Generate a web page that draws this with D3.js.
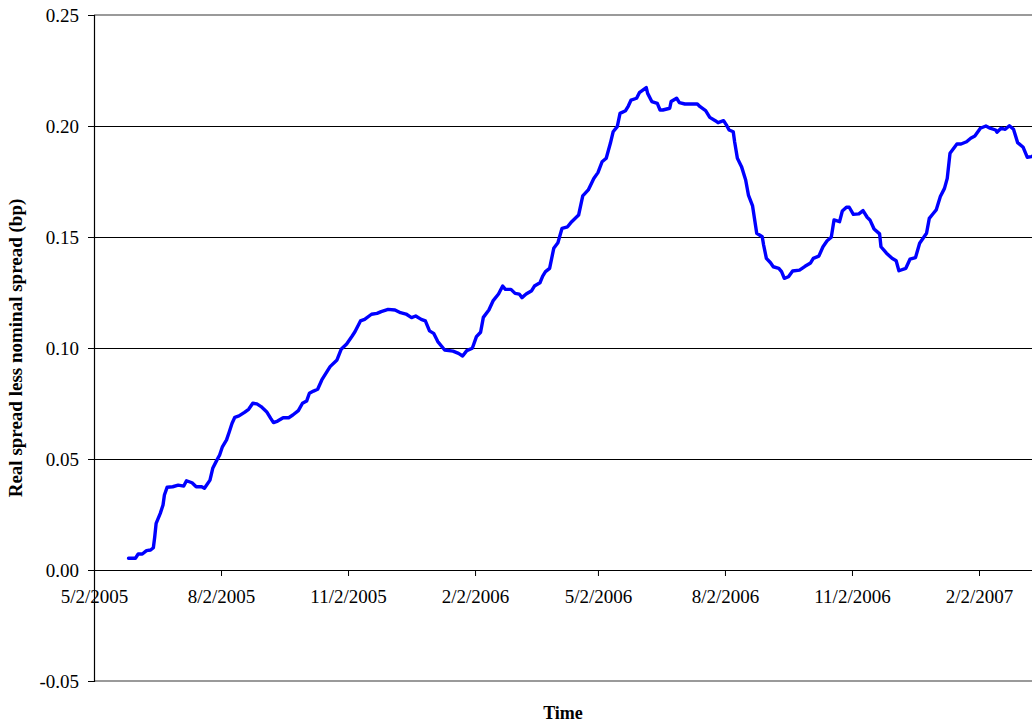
<!DOCTYPE html>
<html>
<head>
<meta charset="utf-8">
<script src="https://cdn.jsdelivr.net/npm/d3@7"></script>
<style>
  html, body { margin: 0; padding: 0; background: #fff; }
  svg { display: block; }
  text { font-family: "Liberation Serif", "Times New Roman", serif; fill: #000; }
</style>
</head>
<body>
<svg id="chart" width="1032" height="725"></svg>
<script>
// ---- data ----
const dates = [
  "2005-05-27","2005-06-01","2005-06-03","2005-06-06","2005-06-09","2005-06-12","2005-06-14","2005-06-15","2005-06-16","2005-06-19",
  "2005-06-21","2005-06-22","2005-06-24","2005-06-28","2005-07-02","2005-07-06","2005-07-08","2005-07-12","2005-07-15","2005-07-19",
  "2005-07-21","2005-07-25","2005-07-27","2005-07-30","2005-08-01","2005-08-03","2005-08-06","2005-08-08","2005-08-10","2005-08-12",
  "2005-08-15","2005-08-19","2005-08-22","2005-08-25","2005-08-28","2005-08-31","2005-09-04","2005-09-07","2005-09-09","2005-09-12",
  "2005-09-16","2005-09-20","2005-09-23","2005-09-27","2005-09-30","2005-10-03","2005-10-05","2005-10-08","2005-10-11","2005-10-14",
  "2005-10-20","2005-10-25","2005-10-28","2005-11-01","2005-11-05","2005-11-07","2005-11-11","2005-11-14","2005-11-19","2005-11-23",
  "2005-11-26","2005-12-01","2005-12-06","2005-12-10","2005-12-14","2005-12-18","2005-12-21","2005-12-25","2005-12-28","2005-12-31",
  "2006-01-03","2006-01-06","2006-01-11","2006-01-17","2006-01-21","2006-01-24","2006-01-27","2006-01-31","2006-02-03","2006-02-06",
  "2006-02-08","2006-02-12","2006-02-15","2006-02-19","2006-02-22","2006-02-24","2006-02-28","2006-03-03","2006-03-06","2006-03-08",
  "2006-03-11","2006-03-15","2006-03-17","2006-03-21","2006-03-23","2006-03-25","2006-03-28","2006-03-31","2006-04-03","2006-04-06",
  "2006-04-10","2006-04-13","2006-04-18","2006-04-21","2006-04-25","2006-04-29","2006-05-02","2006-05-05","2006-05-08","2006-05-11",
  "2006-05-13","2006-05-16","2006-05-18","2006-05-22","2006-05-24","2006-05-26","2006-05-30","2006-06-01","2006-06-06","2006-06-07",
  "2006-06-10","2006-06-14","2006-06-16","2006-06-18","2006-06-23","2006-06-24","2006-06-28","2006-06-30","2006-07-04","2006-07-08",
  "2006-07-13","2006-07-15","2006-07-19","2006-07-22","2006-07-26","2006-07-28","2006-08-01","2006-08-03","2006-08-05","2006-08-08",
  "2006-08-09","2006-08-11","2006-08-14","2006-08-17","2006-08-19","2006-08-22","2006-08-25","2006-08-29","2006-08-30","2006-09-01",
  "2006-09-04","2006-09-06","2006-09-10","2006-09-12","2006-09-14","2006-09-17","2006-09-20","2006-09-25","2006-09-29","2006-10-03",
  "2006-10-05","2006-10-09","2006-10-12","2006-10-15","2006-10-18","2006-10-20","2006-10-24","2006-10-26","2006-10-29","2006-10-31",
  "2006-11-03","2006-11-07","2006-11-10","2006-11-13","2006-11-15","2006-11-18","2006-11-22","2006-11-23","2006-11-27","2006-12-01",
  "2006-12-04","2006-12-06","2006-12-11","2006-12-14","2006-12-18","2006-12-21","2006-12-26","2006-12-28","2006-12-31","2007-01-02",
  "2007-01-05","2007-01-08","2007-01-10","2007-01-12","2007-01-17","2007-01-20","2007-01-24","2007-01-27","2007-01-30","2007-02-03",
  "2007-02-07","2007-02-10","2007-02-14","2007-02-15","2007-02-18","2007-02-21","2007-02-24","2007-02-27","2007-03-02","2007-03-06",
  "2007-03-09","2007-03-12","2007-03-15"
];
const spreadValues = [
  0.0053,0.0053,0.0072,0.0072,0.0087,0.0090,0.0100,0.0150,0.0210,0.0255,
  0.0293,0.0338,0.0373,0.0375,0.0382,0.0378,0.0402,0.0393,0.0375,0.0375,
  0.0368,0.0405,0.0458,0.0495,0.0518,0.0555,0.0586,0.0623,0.0661,0.0688,
  0.0694,0.0710,0.0724,0.0751,0.0748,0.0736,0.0713,0.0683,0.0664,0.0671,
  0.0686,0.0686,0.0698,0.0718,0.0751,0.0761,0.0796,0.0806,0.0814,0.0856,
  0.0916,0.0946,0.0994,0.1018,0.1054,0.1073,0.1122,0.1129,0.1152,0.1156,
  0.1164,0.1174,0.1171,0.1159,0.1153,0.1137,0.1144,0.1129,0.1122,0.1077,
  0.1066,0.1029,0.0991,0.0986,0.0976,0.0964,0.0988,0.0999,0.1051,0.1071,
  0.1138,0.1171,0.1212,0.1243,0.1279,0.1264,0.1264,0.1246,0.1243,0.1227,
  0.1243,0.1258,0.1279,0.1294,0.1324,0.1344,0.1359,0.1449,0.1474,0.1539,
  0.1546,0.1569,0.1599,0.1685,0.1712,0.1764,0.1790,0.1839,0.1855,0.1922,
  0.1974,0.1997,0.2057,0.2069,0.2090,0.2117,0.2125,0.2150,0.2173,0.2147,
  0.2110,0.2102,0.2072,0.2072,0.2080,0.2110,0.2125,0.2105,0.2099,0.2099,
  0.2099,0.2087,0.2069,0.2039,0.2024,0.2015,0.2024,0.2005,0.1982,0.1974,
  0.1929,0.1855,0.1817,0.1757,0.1689,0.1640,0.1517,0.1501,0.1464,0.1404,
  0.1384,0.1366,0.1359,0.1344,0.1314,0.1321,0.1347,0.1351,0.1368,0.1383,
  0.1404,0.1414,0.1456,0.1483,0.1499,0.1577,0.1569,0.1617,0.1634,0.1634,
  0.1602,0.1604,0.1619,0.1589,0.1577,0.1536,0.1514,0.1456,0.1427,0.1404,
  0.1393,0.1348,0.1359,0.1400,0.1407,0.1472,0.1517,0.1584,0.1607,0.1622,
  0.1682,0.1719,0.1764,0.1877,0.1919,0.1919,0.1929,0.1945,0.1955,0.1990,
  0.2000,0.1990,0.1982,0.1972,0.1990,0.1985,0.2001,0.1985,0.1925,0.1904,
  0.1859,0.1862,0.1870
];
const xTickLabels = ["5/2/2005","8/2/2005","11/2/2005","2/2/2006","5/2/2006","8/2/2006","11/2/2006","2/2/2007"];
const yTickValues = [-0.05, 0.00, 0.05, 0.10, 0.15, 0.20, 0.25];
const yTitle = "Real spread less nominal spread (bp)";
const xTitle = "Time";

// ---- layout ----
const svg = d3.select("#chart");
const mLeft = 94, mTop = 15, mBottom = 681, mRight = 1032;

const parseISO = d3.utcParse("%Y-%m-%d");
const parseTick = d3.utcParse("%m/%d/%Y");
const tickDates = xTickLabels.map(parseTick);

const x = d3.scaleUtc()
  .domain([tickDates[0], tickDates[tickDates.length - 1]])
  .range([mLeft, 979]);
const y = d3.scaleLinear().domain([-0.05, 0.25]).range([mBottom, mTop]);

const data = dates.map((d, i) => ({ date: parseISO(d), value: spreadValues[i] }));

// clip
svg.append("defs").append("clipPath").attr("id", "plotclip")
  .append("rect").attr("x", mLeft).attr("y", mTop - 5).attr("width", mRight - mLeft).attr("height", mBottom - mTop + 10);

// plot border (top/bottom gray)
[0.25, -0.05].forEach(v => {
  svg.append("line").attr("x1", mLeft).attr("x2", mRight + 10).attr("y1", y(v)).attr("y2", y(v))
    .attr("stroke", "#9a9a9a").attr("stroke-width", 2);
});

// gridlines
svg.append("g").selectAll("line")
  .data(yTickValues.filter(v => v > 0.001 && v < 0.249))
  .join("line")
  .attr("x1", mLeft).attr("x2", mRight)
  .attr("y1", d => Math.round(y(d)) + 0.5).attr("y2", d => Math.round(y(d)) + 0.5)
  .attr("stroke", "#000").attr("stroke-width", 1);

// y axis
const yAxis = d3.axisLeft(y).tickValues(yTickValues).tickSize(6).tickPadding(9)
  .tickFormat(d => d3.format(".2f")(d).replace("\u2212", "-"));
const gy = svg.append("g").attr("transform", `translate(${mLeft},0)`).call(yAxis);
gy.select(".domain").attr("stroke", "#000").attr("stroke-width", 1.2);
gy.selectAll(".tick line").attr("stroke", "#000");
gy.selectAll("text").attr("font-size", 19).attr("font-family", "Liberation Serif, Times New Roman, serif")
  .attr("fill", "#000");

// x axis at y=0
const xAxis = d3.axisBottom(x).tickValues(tickDates).tickSize(6).tickPadding(14)
  .tickFormat((d, i) => xTickLabels[i]);
const gx = svg.append("g").attr("transform", `translate(0,${y(0)})`).call(xAxis);
gx.select(".domain").attr("d", `M${mLeft},0.5H${mRight + 10}`).attr("stroke", "#000").attr("stroke-width", 1.2);
gx.selectAll(".tick line").attr("stroke", "#000");
gx.selectAll("text").attr("font-size", 19).attr("font-family", "Liberation Serif, Times New Roman, serif").attr("fill", "#000");

// series line
const line = d3.line().x(d => x(d.date)).y(d => y(d.value));
svg.append("path").datum(data)
  .attr("clip-path", "url(#plotclip)")
  .attr("d", line)
  .attr("fill", "none")
  .attr("stroke", "#0000ff")
  .attr("stroke-width", 3.4)
  .attr("stroke-linejoin", "round")
  .attr("stroke-linecap", "round");

// titles
svg.append("text")
  .attr("transform", `translate(22,${(mTop + mBottom) / 2}) rotate(-90)`)
  .attr("text-anchor", "middle")
  .attr("font-size", 19).attr("font-weight", "bold")
  .text(yTitle);
svg.append("text")
  .attr("x", (mLeft + mRight) / 2).attr("y", 719)
  .attr("text-anchor", "middle")
  .attr("font-size", 18).attr("font-weight", "bold")
  .text(xTitle);
</script>
</body>
</html>
